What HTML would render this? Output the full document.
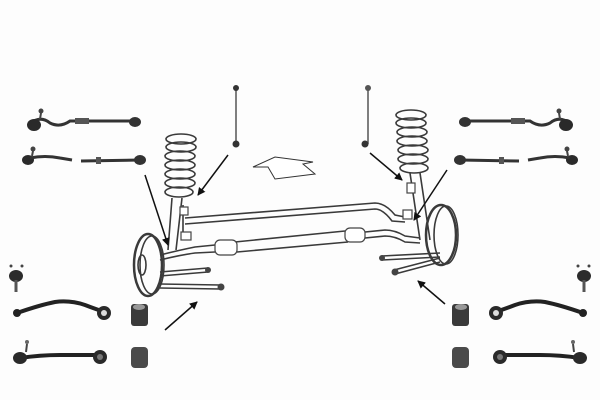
<!DOCTYPE html>
<html><head><style>
html,body{margin:0;padding:0;background:#fdfdfd;width:600px;height:400px;overflow:hidden}
</style></head><body>
<svg width="600" height="400" viewBox="0 0 600 400" xmlns="http://www.w3.org/2000/svg">
<rect width="600" height="400" fill="#fdfdfd"/>
<defs>
<g id="side">
 <path d="M30 124 Q40 115 50 123 Q60 128 70 121 L140 121" stroke="#333" stroke-width="3" fill="none"/>
 <ellipse cx="34" cy="125" rx="7" ry="6" fill="#2a2a2a"/>
 <circle cx="41" cy="111" r="2.5" fill="#444"/><line x1="41" y1="113" x2="40" y2="119" stroke="#444" stroke-width="2"/>
 <rect x="75" y="118" width="14" height="6" fill="#555"/>
 <ellipse cx="135" cy="122" rx="6" ry="5" fill="#333"/>
 <ellipse cx="28" cy="160" rx="6" ry="5" fill="#2a2a2a"/>
 <circle cx="33" cy="149" r="2.5" fill="#444"/><line x1="33" y1="151" x2="32" y2="156" stroke="#444" stroke-width="2"/>
 <path d="M30 158 Q45 155 60 158 L72 160" stroke="#333" stroke-width="3" fill="none"/>
 <line x1="81" y1="161" x2="140" y2="160" stroke="#333" stroke-width="3"/>
 <rect x="96" y="157" width="5" height="7" fill="#555"/>
 <ellipse cx="140" cy="160" rx="6" ry="5" fill="#333"/>
 <ellipse cx="16" cy="276" rx="7" ry="6" fill="#2c2c2c"/>
 <line x1="16" y1="280" x2="16" y2="292" stroke="#555" stroke-width="3"/>
 <circle cx="11" cy="266" r="1.5" fill="#444"/><circle cx="22" cy="266" r="1.5" fill="#444"/>
 <path d="M17 313 Q40 305 55 302 Q70 300 85 305 Q98 310 105 312" stroke="#222" stroke-width="4" fill="none"/>
 <circle cx="17" cy="313" r="4" fill="#222"/>
 <circle cx="104" cy="313" r="7" fill="#2a2a2a"/><circle cx="104" cy="313" r="3" fill="#ddd"/>
 <path d="M20 358 Q40 355 60 355 L97 355" stroke="#222" stroke-width="4" fill="none"/>
 <circle cx="100" cy="357" r="7" fill="#2a2a2a"/><circle cx="100" cy="357" r="3" fill="#777"/>
 <ellipse cx="20" cy="358" rx="7" ry="6" fill="#2a2a2a"/>
 <line x1="27" y1="344" x2="26" y2="352" stroke="#444" stroke-width="2"/><circle cx="27" cy="342" r="2" fill="#666"/>
 <rect x="131" y="304" width="17" height="22" rx="3" fill="#3a3a3a"/><ellipse cx="139" cy="307" rx="6" ry="3" fill="#999"/>
 <rect x="131" y="347" width="17" height="21" rx="4" fill="#4a4a4a"/>
</g>
</defs>
<use href="#side"/>
<use href="#side" transform="translate(600,0) scale(-1,1)"/>

<line x1="236" y1="88" x2="236" y2="144" stroke="#555" stroke-width="1.5"/>
<circle cx="236" cy="88" r="3" fill="#333"/><circle cx="236" cy="144" r="3.5" fill="#333"/>
<line x1="368" y1="88" x2="368" y2="144" stroke="#555" stroke-width="1.5"/>
<circle cx="368" cy="88" r="3" fill="#555"/><circle cx="365" cy="144" r="3.5" fill="#333"/>

<polygon points="253,167 275,157 313,162 303,164 315,174 275,179 268,167" fill="#fff" stroke="#333" stroke-width="1"/>

<g fill="none" stroke="#3a3a3a" stroke-width="1.6">
 <ellipse cx="181" cy="139" rx="15" ry="5"/><ellipse cx="181" cy="147" rx="15" ry="5"/>
 <ellipse cx="180" cy="156" rx="15" ry="5"/><ellipse cx="180" cy="165" rx="15" ry="5"/>
 <ellipse cx="180" cy="174" rx="15" ry="5"/><ellipse cx="180" cy="183" rx="15" ry="5"/>
 <ellipse cx="179" cy="192" rx="14" ry="5"/>
 <path d="M172 198 L168 250 M182 198 L176 250"/>
 <ellipse cx="411" cy="115" rx="15" ry="5"/><ellipse cx="411" cy="123" rx="15" ry="5"/>
 <ellipse cx="412" cy="132" rx="15" ry="5"/><ellipse cx="412" cy="141" rx="15" ry="5"/>
 <ellipse cx="413" cy="150" rx="15" ry="5"/><ellipse cx="413" cy="159" rx="15" ry="5"/>
 <ellipse cx="414" cy="168" rx="14" ry="5"/>
 <path d="M410 173 L420 240 M420 173 L430 240"/>
 <path d="M185 218 L375 203 Q385 203 395 215 L405 217"/>
 <path d="M185 224 L375 209 Q383 209 392 221 L405 222"/>
 <path d="M183 205 L183 235"/>
 <path d="M160 255 Q180 250 195 247 L215 245"/>
 <path d="M160 260 Q180 255 195 253 L215 252"/>
 <path d="M235 242 L345 231 M237 252 L348 242"/>
 <path d="M365 232 L385 230 Q395 230 405 236 L420 238"/>
 <path d="M365 238 L385 236 Q395 236 405 242 L420 243"/>
 <ellipse cx="148" cy="265" rx="14" ry="31" stroke-width="2.5"/><ellipse cx="152" cy="265" rx="12" ry="29"/>
 <ellipse cx="142" cy="265" rx="4" ry="10"/>
 <ellipse cx="441" cy="235" rx="15" ry="30" stroke-width="2.5"/><ellipse cx="446" cy="235" rx="12" ry="29"/>
 <path d="M160 272 L208 268 M160 276 L208 272"/>
 <path d="M160 284 L220 285 M160 288 L220 289"/>
 <path d="M382 256 L440 253 M382 260 L440 257"/>
 <path d="M394 270 L440 258 M395 274 L440 262"/>
</g>
<g fill="#fff" stroke="#444" stroke-width="1.2">
 <rect x="215" y="240" width="22" height="15" rx="5"/>
 <rect x="345" y="228" width="20" height="14" rx="5"/>
 <rect x="180" y="207" width="8" height="8"/><rect x="181" y="232" width="10" height="8"/>
 <rect x="407" y="183" width="8" height="10"/><rect x="403" y="210" width="9" height="9"/>
</g>
<circle cx="208" cy="270" r="3" fill="#444"/><circle cx="221" cy="287" r="3.5" fill="#444"/>
<circle cx="382" cy="258" r="3" fill="#444"/><circle cx="395" cy="272" r="3.5" fill="#444"/>

<defs><marker id="ah" markerWidth="8" markerHeight="8" refX="7" refY="4" orient="auto" markerUnits="userSpaceOnUse"><path d="M0,0 L8,4 L0,8 z" fill="#111"/></marker></defs>
<g stroke="#111" stroke-width="1.5" marker-end="url(#ah)">
 <line x1="145" y1="175" x2="168" y2="245"/>
 <line x1="228" y1="155" x2="198" y2="195"/>
 <line x1="370" y1="153" x2="402" y2="180"/>
 <line x1="447" y1="170" x2="414" y2="220"/>
 <line x1="165" y1="330" x2="197" y2="302"/>
 <line x1="445" y1="304" x2="418" y2="281"/>
</g>
</svg>
</body></html>
